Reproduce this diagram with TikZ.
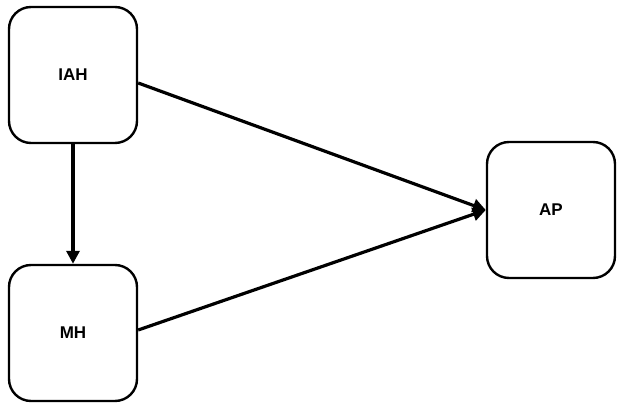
\documentclass[tikz,border=0pt]{standalone}
\usepackage{fontspec}
\setmainfont{Liberation Sans}
\usetikzlibrary{arrows.meta}
\begin{document}
\begin{tikzpicture}[x=1pt,y=-1pt,
  box/.style={draw,line width=2.4pt,rounded corners=22pt,minimum width=128pt,minimum height=136pt,font=\bfseries\fontsize{17}{20}\selectfont},
  conn/.style={line width=3.2pt,-{Triangle[length=13pt,width=13pt]}}]
\useasboundingbox (0,0) rectangle (624,411);
\node[box] (iah) at (73,75) {IAH};
\node[box] (mh) at (73,333) {MH};
\node[box] (ap) at (551,210) {AP};
\draw[conn] ([yshift=-8pt]iah.east) -- (ap.west);
\draw[conn] ([yshift=3pt]mh.east) -- (ap.west);
\draw[conn] (iah.south) -- (mh.north);
\end{tikzpicture}
\end{document}
